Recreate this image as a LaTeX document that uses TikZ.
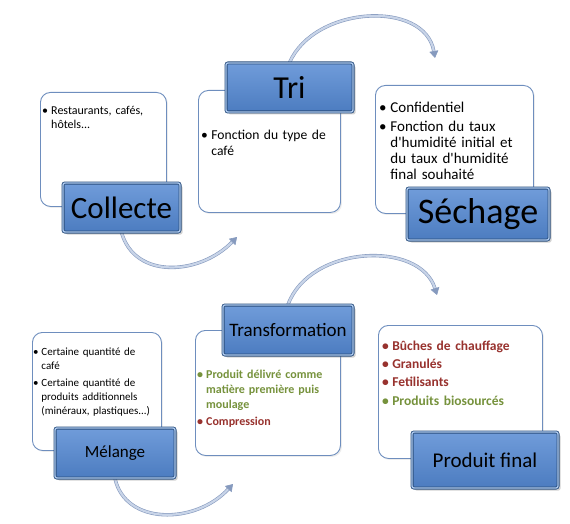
\documentclass[tikz,border=0pt]{standalone}
\usepackage{fontspec}
\setmainfont{Carlito}
\usetikzlibrary{shadows,arrows.meta,backgrounds}

\definecolor{bordEtiq}{RGB}{42,78,124}
\definecolor{hautEtiq}{RGB}{112,156,218}
\definecolor{basEtiq}{RGB}{76,124,192}
\definecolor{filetEtiq}{RGB}{170,198,236}
\definecolor{bordBoite}{RGB}{110,142,190}
\definecolor{rougeTexte}{RGB}{152,50,46}
\definecolor{vertTexte}{RGB}{118,146,60}
\definecolor{traitFleche}{RGB}{134,154,190}
\definecolor{fondFleche}{RGB}{200,212,232}

\newcommand\puce[2][black]{\par\noindent\hangindent=0.75em\hangafter=1{\color{#1}\makebox[0.75em][l]{\textbullet}#2}\par}

\begin{document}
\begin{tikzpicture}[x=1pt,y=-1pt]
\tikzstyle{boite}=[draw=bordBoite, line width=0.9pt, rounded corners=10pt, fill=white, anchor=north west,
  drop shadow={opacity=0.15, shadow xshift=1.5pt, shadow yshift=-1.5pt}]
\tikzstyle{etiquette}=[draw=bordEtiq, line width=0.8pt, double=filetEtiq, double distance=1.4pt,
  rounded corners=2pt, top color=hautEtiq, bottom color=basEtiq, inner sep=0pt,
  drop shadow={opacity=0.35, shadow xshift=2.5pt, shadow yshift=-2.5pt}]
\tikzstyle{texte}=[anchor=north west, inner sep=0pt]
\tikzstyle{fleche}=[draw=traitFleche, line width=0.6pt, double=fondFleche, double distance=2.2pt,
  -{Triangle[length=7pt,width=9pt]}]

\useasboundingbox (0,0) rectangle (570,524);

% rangee du haut
\node[boite, minimum width=126pt, minimum height=114pt] (bCollecte) at (40,92) {};
\node[etiquette, minimum width=117pt, minimum height=49pt, font=\fontsize{31}{36}\selectfont] (collecte) at (121.5,207.5) {Collecte};
\node[texte, text width=120pt, font=\fontsize{12}{14}\selectfont] (tCollecte) at (42,100)
  {\puce{Restaurants, cafés,\newline hôtels...}};

\node[boite, minimum width=142pt, minimum height=122pt] (bTri) at (198,90) {};
\node[etiquette, minimum width=127pt, minimum height=49pt, font=\fontsize{32}{36}\selectfont] (tri) at (289.5,87.5) {Tri};
\node[texte, text width=135pt, font=\fontsize{13.6}{16}\selectfont] (tTri) at (201,123)
  {\puce{Fonction du type de\newline café}};

\node[boite, minimum width=158pt, minimum height=128pt] (bSechage) at (375,85) {};
\node[etiquette, minimum width=142pt, minimum height=52pt, font=\fontsize{36}{40}\selectfont] (sechage) at (478,214) {Séchage};
\node[texte, text width=150pt, font=\fontsize{15}{16}\selectfont\setlength\parskip{3pt}] (tSechage) at (379,93)
  {\puce{Confidentiel}\puce{Fonction du taux\newline d\textquotesingle{}humidité initial et\newline du taux d\textquotesingle{}humidité\newline final souhaité}};

% rangee du bas
\node[boite, minimum width=129pt, minimum height=118pt] (bMelange) at (32,332) {};
\node[etiquette, minimum width=120pt, minimum height=50pt, font=\fontsize{17}{20}\selectfont] (melange) at (115,453) {Mélange};
\node[texte, text width=125pt, font=\fontsize{11}{14}\selectfont\setlength\parskip{2.7pt}] (tMelange) at (33,339)
  {\puce{Certaine quantité de\newline café}\puce{Certaine quantité de\newline produits additionnels\newline (minéraux, plastiques...)}};

\node[boite, minimum width=145pt, minimum height=125pt] (bTransfo) at (195,330) {};
\node[etiquette, minimum width=130pt, minimum height=50pt, font=\fontsize{19}{22}\selectfont] (transfo) at (288,330) {Transformation};
\node[texte, text width=140pt, font=\bfseries\fontsize{12}{15}\selectfont\setlength\parskip{1.7pt}] (tTransfo) at (197,362)
  {\puce[vertTexte]{Produit délivré comme\newline matière première puis\newline moulage}\puce[rougeTexte]{Compression}};

\node[boite, minimum width=164pt, minimum height=133pt] (bProduit) at (378,325) {};
\node[etiquette, minimum width=146pt, minimum height=56pt, font=\fontsize{21}{24}\selectfont] (produit) at (485,460) {Produit final};
\node[texte, text width=155pt, font=\bfseries\fontsize{13.5}{15}\selectfont\setlength\parskip{3.2pt}] (tProduit) at (382,332)
  {\puce[rougeTexte]{Bûches de chauffage}\puce[rougeTexte]{Granulés}\puce[rougeTexte]{Fetilisants}\puce[vertTexte]{Produits biosourcés}};

% fleches
\coordinate (f1) at (237,237);
\coordinate (f2) at (435,58);
\coordinate (f3) at (233,484);
\coordinate (f4) at (437,295);
\begin{scope}[on background layer]
\draw[fleche] (collecte.south) .. controls (135,280) and (200,275) .. (f1);
\draw[fleche] (tri.north) .. controls (315,5) and (425,0) .. (f2);
\draw[fleche] (melange.south) .. controls (125,525) and (195,525) .. (f3);
\draw[fleche] (transfo.north) .. controls (310,245) and (420,240) .. (f4);
\end{scope}
\end{tikzpicture}
\end{document}
